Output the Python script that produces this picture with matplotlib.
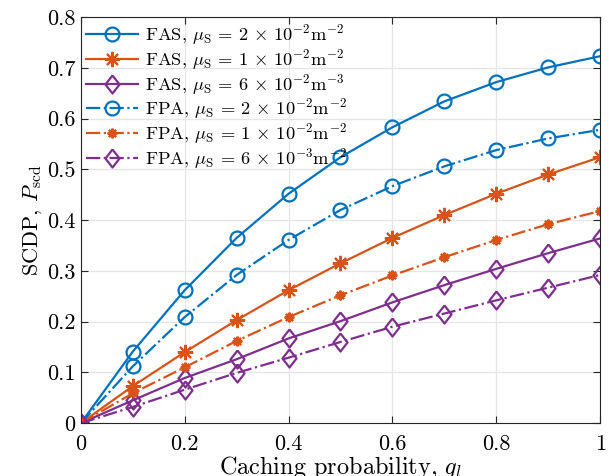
import numpy as np
import matplotlib
matplotlib.use('Agg')
from matplotlib import pyplot as plt

# caching probability
q = [0, 0.1, 0.2, 0.3, 0.4, 0.5, 0.6, 0.7, 0.8, 0.9, 1.0]

# SCDP values
fas_2e2 = [0, 0.141, 0.262, 0.365, 0.452, 0.524, 0.583, 0.634, 0.672, 0.701, 0.723]
fas_1e2 = [0, 0.073, 0.140, 0.203, 0.262, 0.315, 0.365, 0.410, 0.452, 0.490, 0.524]
fas_6e3 = [0, 0.045, 0.089, 0.126, 0.167, 0.201, 0.238, 0.272, 0.304, 0.335, 0.364]
fpa_2e2 = [0, 0.112, 0.209, 0.292, 0.361, 0.420, 0.467, 0.506, 0.538, 0.561, 0.578]
fpa_1e2 = [0, 0.059, 0.110, 0.162, 0.209, 0.252, 0.291, 0.327, 0.361, 0.392, 0.418]
fpa_6e3 = [0, 0.032, 0.066, 0.099, 0.129, 0.160, 0.190, 0.216, 0.242, 0.267, 0.292]

labels = [r'FAS, $\mu_{\mathrm{S}}\,=\,2\,\times\,10^{-2}\mathrm{m}^{-2}$',
          r'FAS, $\mu_{\mathrm{S}}\,=\,1\,\times\,10^{-2}\mathrm{m}^{-2}$',
          r'FAS, $\mu_{\mathrm{S}}\,=\,6\,\times\,10^{-2}\mathrm{m}^{-3}$',
          r'FPA, $\mu_{\mathrm{S}}\,=\,2\,\times\,10^{-2}\mathrm{m}^{-2}$',
          r'FPA, $\mu_{\mathrm{S}}\,=\,1\,\times\,10^{-2}\mathrm{m}^{-2}$',
          r'FPA, $\mu_{\mathrm{S}}\,=\,6\,\times\,10^{-3}\mathrm{m}^{-2}$']

plt.rcParams['font.family'] = 'serif'
plt.rcParams['font.serif'] = ['cmr10', 'DejaVu Serif']
plt.rcParams['mathtext.fontset'] = 'cm'
plt.rcParams['axes.formatter.use_mathtext'] = True

blue = '#0072BD'
orange = '#D95319'
purple = '#7E2F8E'
diamond = [(0, 1), (0.78, 0), (0, -1), (-0.78, 0), (0, 1)]

fig = plt.figure(figsize=(6.08, 4.76), dpi=100)
ax = fig.add_axes([0.133, 0.111, 0.854, 0.853])

lw = 1.6
ax.plot(q, fas_2e2, '-', color=blue, marker='o', ms=10, mfc='none', mew=1.6, lw=lw, label=labels[0])
ax.plot(q, fas_1e2, '-', color=orange, marker=(8, 2, 0), ms=11, mew=1.5, lw=lw, label=labels[1])
ax.plot(q, fas_6e3, '-', color=purple, marker=diamond, ms=13, mfc='none', mew=1.6, lw=lw, label=labels[2])
ax.plot(q, fpa_2e2, '-.', color=blue, marker='o', ms=10, mfc='none', mew=1.6, lw=lw, label=labels[3])
ax.plot(q, fpa_1e2, '-.', color=orange, marker=(8, 2, 0), ms=7, mew=1.6, lw=lw, label=labels[4])
ax.plot(q, fpa_6e3, '-.', color=purple, marker=diamond, ms=13, mfc='none', mew=1.6, lw=lw, label=labels[5])

ax.set_xlim(0, 1)
ax.set_ylim(0, 0.8)
ax.set_xticks([0, 0.2, 0.4, 0.6, 0.8, 1])
ax.set_xticklabels(['0', '0.2', '0.4', '0.6', '0.8', '1'])
ax.set_yticks(np.arange(0, 0.81, 0.1))
ax.set_yticklabels(['0', '0.1', '0.2', '0.3', '0.4', '0.5', '0.6', '0.7', '0.8'])
ax.tick_params(direction='in', top=True, right=True, labelsize=16, length=5, color='#262626')
ax.tick_params(axis='x', pad=8)
ax.tick_params(axis='y', pad=4)
ax.grid(True, color='#e6e6e6', lw=0.9)
ax.set_axisbelow(True)
for s in ax.spines.values():
    s.set_color('#262626')
    s.set_linewidth(0.8)

ax.set_xlabel(r'Caching probability, $q_l$', fontsize=17.5, labelpad=0)
ax.set_ylabel(r'SCDP, $P_{\mathrm{scd}}$', fontsize=16, labelpad=2)

leg = ax.legend(loc='upper left', fontsize=13.3, frameon=False,
                borderaxespad=0.1, handlelength=2.8, handletextpad=0.35,
                labelspacing=0.0, borderpad=0.2)

fig.savefig('out.png', dpi=100)
